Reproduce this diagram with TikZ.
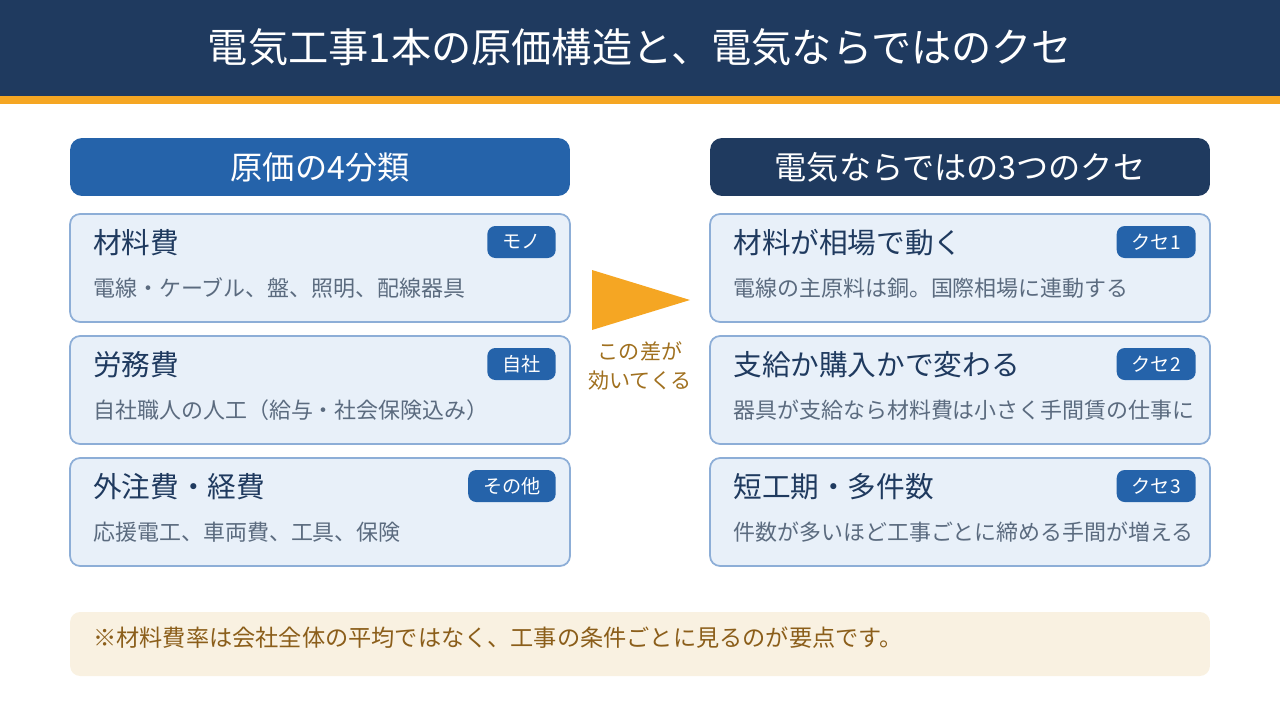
\documentclass[tikz,border=0pt]{standalone}
\usepackage{fontspec}
\setmainfont{Noto Sans CJK JP}
\usetikzlibrary{positioning}
\definecolor{knavy}{HTML}{1F3A5F}
\definecolor{kblue}{HTML}{2563AA}
\definecolor{korange}{HTML}{F5A623}
\definecolor{kcard}{HTML}{E8F0F9}
\definecolor{kedge}{HTML}{8DAED7}
\definecolor{kgray}{HTML}{5B6B7F}
\definecolor{kbrown}{HTML}{A0701F}
\definecolor{knote}{HTML}{F9F1E1}
\definecolor{knotetxt}{HTML}{8B5E1A}
\tikzset{
  head/.style={rounded corners=0.24cm,minimum width=10cm,minimum height=1.16cm,text=white,font=\fontsize{18.3pt}{21pt}\selectfont},
  card/.style={fill=kcard,draw=kedge,line width=1pt,rounded corners=0.2cm,minimum width=10cm,minimum height=2.16cm},
  ctitle/.style={anchor=west,inner sep=0pt,text=knavy,font=\fontsize{16.3pt}{19pt}\selectfont},
  cdesc/.style={anchor=west,inner sep=0pt,text=kgray,font=\fontsize{12.5pt}{15pt}\selectfont},
  badge/.style={anchor=east,fill=kblue,text=white,rounded corners=0.16cm,minimum height=0.64cm,inner xsep=0.3cm,inner ysep=0pt,font=\fontsize{10.9pt}{12pt}\selectfont},
  mid/.style={text=kbrown,align=center,font=\fontsize{12pt}{16pt}\selectfont},
}
\begin{document}
\begin{tikzpicture}[x=0.02cm,y=-0.02cm]
  \useasboundingbox (0,0) rectangle (1280,720);
  % title bar
  \fill[knavy] (0,0) rectangle (1280,96);
  \fill[korange] (0,96) rectangle (1280,104);
  \node[text=white,font=\fontsize{22.9pt}{27pt}\selectfont] (title) at (640,47) {電気工事1本の原価構造と、電気ならではのクセ};
  % left column
  \node[head,fill=kblue] (lh) at (320,167) {原価の4分類};
  \node[card] (l1) at (320,268) {};
  \node[ctitle] (l1t) at (93,243) {材料費};
  \node[cdesc] (l1d) at (93,288) {電線・ケーブル、盤、照明、配線器具};
  \node[badge] (l1b) at (556,242) {モノ};
  \node[card] (l2) at (320,390) {};
  \node[ctitle] (l2t) at (93,365) {労務費};
  \node[cdesc] (l2d) at (93,410) {自社職人の人工（給与・社会保険込み）};
  \node[badge] (l2b) at (556,364) {自社};
  \node[card] (l3) at (320,512) {};
  \node[ctitle] (l3t) at (93,487) {外注費・経費};
  \node[cdesc] (l3d) at (93,532) {応援電工、車両費、工具、保険};
  \node[badge] (l3b) at (556,486) {その他};
  % right column
  \node[head,fill=knavy] (rh) at (960,167) {電気ならではの3つのクセ};
  \node[card] (r1) at (960,268) {};
  \node[ctitle] (r1t) at (733,243) {材料が相場で動く};
  \node[cdesc] (r1d) at (733,288) {電線の主原料は銅。国際相場に連動する};
  \node[badge] (r1b) at (1196,242) {クセ1};
  \node[card] (r2) at (960,390) {};
  \node[ctitle] (r2t) at (733,365) {支給か購入かで変わる};
  \node[cdesc] (r2d) at (733,410) {器具が支給なら材料費は小さく手間賃の仕事に};
  \node[badge] (r2b) at (1196,364) {クセ2};
  \node[card] (r3) at (960,512) {};
  \node[ctitle] (r3t) at (733,487) {短工期・多件数};
  \node[cdesc] (r3d) at (733,532) {件数が多いほど工事ごとに締める手間が増える};
  \node[badge] (r3b) at (1196,486) {クセ3};
  % middle arrow
  \fill[korange] (592,270) -- (690,300) -- (592,330) -- cycle;
  \node[mid] (diff) at (640,366) {この差が\\効いてくる};
  % note
  \node[fill=knote,rounded corners=0.2cm,minimum width=22.8cm,minimum height=1.28cm] (note) at (640,644) {};
  \node[anchor=west,inner sep=0pt,text=knotetxt,font=\fontsize{13.2pt}{16pt}\selectfont] (notet) at (93,638) {※材料費率は会社全体の平均ではなく、工事の条件ごとに見るのが要点です。};
\end{tikzpicture}
\end{document}
